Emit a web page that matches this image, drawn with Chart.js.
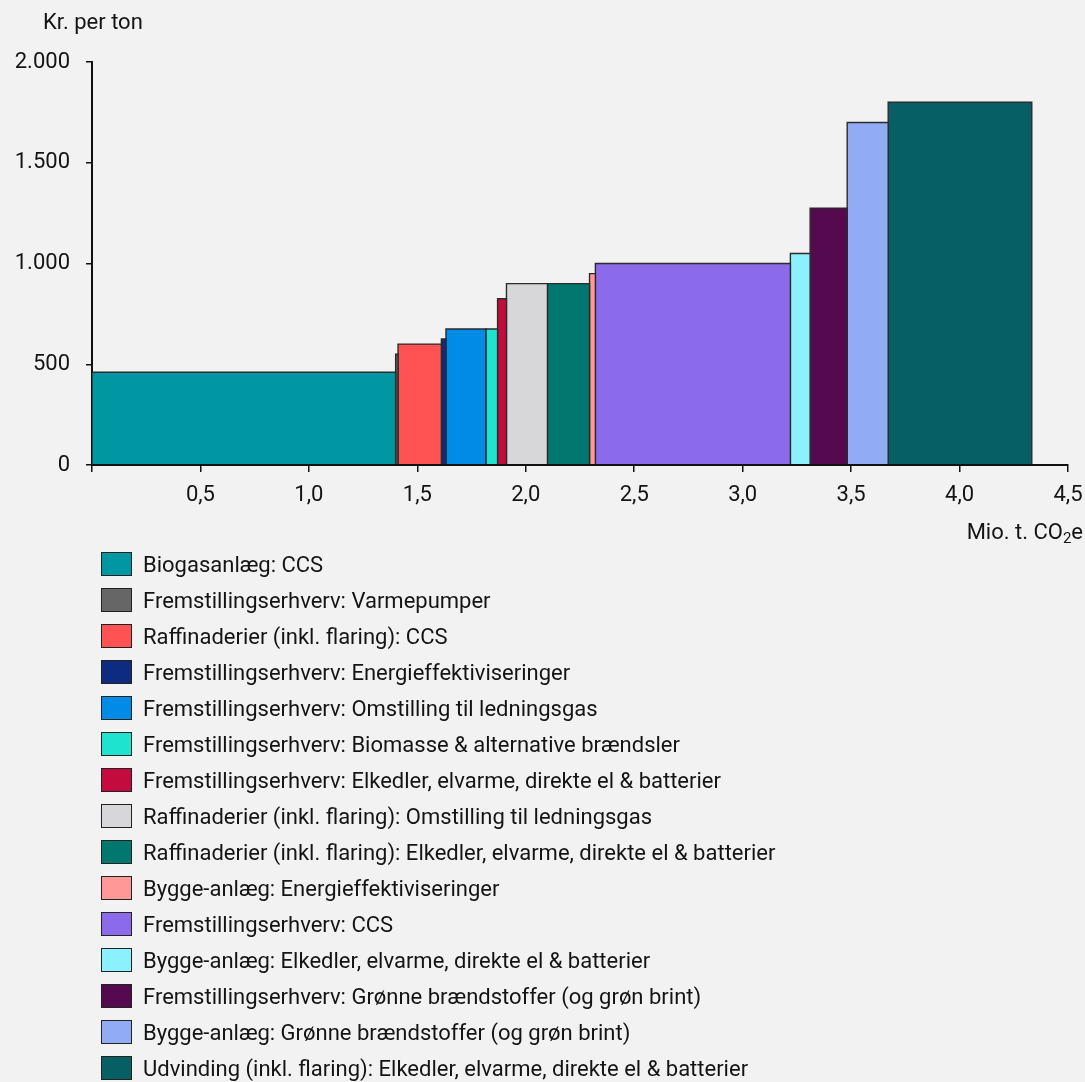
<!DOCTYPE html>
<html><head><meta charset="utf-8">
<script src="https://cdn.jsdelivr.net/npm/chart.js@4.4.1/dist/chart.umd.min.js"></script>
<style>
html,body{margin:0;padding:0;background:#f2f2f2;}
body{width:1085px;height:1082px;position:relative;overflow:hidden;font-family:Roboto,sans-serif;}
#c{position:absolute;left:0;top:0;}
#legend{position:absolute;left:101px;top:546px;}
.row{height:36px;display:flex;align-items:center;font-size:22px;color:#141414;white-space:nowrap;}
.box{width:29px;height:22px;border:1px solid #222;margin-right:11px;flex:none;}
</style></head><body>
<canvas id="c" width="1085" height="560"></canvas>
<div id="legend"></div>
<script>
// ---- data ----
const categories = [
  "Biogasanlæg: CCS",
  "Fremstillingserhverv: Varmepumper",
  "Raffinaderier (inkl. flaring): CCS",
  "Fremstillingserhverv: Energieffektiviseringer",
  "Fremstillingserhverv: Omstilling til ledningsgas",
  "Fremstillingserhverv: Biomasse & alternative brændsler",
  "Fremstillingserhverv: Elkedler, elvarme, direkte el & batterier",
  "Raffinaderier (inkl. flaring): Omstilling til ledningsgas",
  "Raffinaderier (inkl. flaring): Elkedler, elvarme, direkte el & batterier",
  "Bygge-anlæg: Energieffektiviseringer",
  "Fremstillingserhverv: CCS",
  "Bygge-anlæg: Elkedler, elvarme, direkte el & batterier",
  "Fremstillingserhverv: Grønne brændstoffer (og grøn brint)",
  "Bygge-anlæg: Grønne brændstoffer (og grøn brint)",
  "Udvinding (inkl. flaring): Elkedler, elvarme, direkte el & batterier"
];
// reduction potential, Mio. t. CO2e (bar widths)
const potentials = [1.40, 0.011, 0.20, 0.021, 0.184, 0.054, 0.041, 0.189, 0.194, 0.027, 0.899, 0.091, 0.171, 0.189, 0.662];
// cost, kr. per ton (bar heights)
const costs = [460, 550, 600, 625, 675, 675, 825, 900, 900, 950, 1000, 1050, 1275, 1700, 1800];
const colors = ["#0096a2","#666666","#ff5252","#0e2b82","#008ce6","#1ee3cf","#c30b3d","#d7d7d9","#007870","#ff9896","#8c6bea","#8cf1ff","#550a50","#92abf5","#055f64"];
const xTickValues = [0, 0.5, 1.0, 1.5, 2.0, 2.5, 3.0, 3.5, 4.0, 4.5];
const yTickValues = [0, 500, 1000, 1500, 2000];
const yTitle = "Kr. per ton";
const xTitleMain = "Mio. t. CO", xTitleSub = "2", xTitleEnd = "e";

// ---- build datasets (each measure a rectangle from cumulative potential) ----
let start = 0;
const datasets = categories.map((name, i) => {
  const x0 = start, x1 = start + potentials[i];
  start = x1;
  return {
    label: name,
    data: [{x: x0, y: 0}, {x: x0, y: costs[i]}, {x: x1, y: costs[i]}, {x: x1, y: 0}],
    showLine: true,
    fill: 'origin',
    backgroundColor: colors[i],
    borderColor: '#2b2b2b',
    borderWidth: 1.4,
    pointRadius: 0,
    tension: 0
  };
});

const fmtDa = v => {
  if (v >= 1000) { const t = Math.floor(v / 1000), r = Math.round(v % 1000); return t + '.' + String(r).padStart(3, '0'); }
  return String(v);
};

const titles = {
  id: 'titles',
  afterDatasetsDraw(chart) {
    // keep the x axis line visible on top of the bars
    const ctx = chart.ctx, ca = chart.chartArea;
    ctx.save();
    ctx.strokeStyle = '#111';
    ctx.lineWidth = 2;
    ctx.beginPath();
    ctx.moveTo(ca.left, ca.bottom);
    ctx.lineTo(ca.right, ca.bottom);
    ctx.stroke();
    ctx.restore();
  },
  afterDraw(chart) {
    const ctx = chart.ctx, ca = chart.chartArea;
    ctx.save();
    ctx.fillStyle = '#141414';
    ctx.textBaseline = 'middle';
    ctx.textAlign = 'left';
    ctx.font = '22px Roboto';
    ctx.fillText(yTitle, 43, ca.top - 39);
    const wa = ctx.measureText(xTitleMain).width, we = ctx.measureText(xTitleEnd).width;
    ctx.font = '15px Roboto';
    const ws = ctx.measureText(xTitleSub).width;
    const xr = 1083, y = ca.bottom + 68;
    let x = xr - wa - ws - we;
    ctx.font = '22px Roboto';
    ctx.fillText(xTitleMain, x, y); x += wa;
    ctx.font = '15px Roboto';
    ctx.fillText(xTitleSub, x, y + 6); x += ws;
    ctx.font = '22px Roboto';
    ctx.fillText(xTitleEnd, x, y);
    ctx.restore();
  }
};

Chart.defaults.font.family = 'Roboto';
Chart.defaults.font.size = 22;
Chart.defaults.color = '#141414';

new Chart(document.getElementById('c'), {
  type: 'scatter',
  data: { datasets },
  plugins: [titles],
  options: {
    responsive: false,
    animation: false,
    events: [],
    layout: { padding: { top: 62, right: 0, bottom: 55, left: 0 } },
    plugins: { legend: { display: false }, tooltip: { enabled: false } },
    scales: {
      x: {
        type: 'linear', min: 0, max: 4.5,
        afterBuildTicks: s => { s.ticks = xTickValues.map(v => ({value: v})); },
        afterFit: s => { s.height = 40; s.paddingRight = 17; s.paddingLeft = 0; },
        ticks: { padding: 10, maxRotation: 0, autoSkip: false,
          callback: v => v === 0 ? '' : v.toFixed(1).replace('.', ',') },
        grid: { drawOnChartArea: false, drawTicks: true, tickLength: 7, color: '#111', lineWidth: 1.5 },
        border: { display: true, color: '#111', width: 2 }
      },
      y: {
        min: 0, max: 2000,
        afterBuildTicks: s => { s.ticks = yTickValues.map(v => ({value: v})); },
        afterFit: s => { s.width = 92; },
        ticks: { padding: 16, callback: v => fmtDa(v) },
        grid: { drawOnChartArea: false, drawTicks: true, tickLength: 6, color: '#111', lineWidth: 1.5 },
        border: { display: true, color: '#111', width: 2 }
      }
    }
  }
});

// ---- legend ----
const lg = document.getElementById('legend');
categories.forEach((name, i) => {
  const row = document.createElement('div'); row.className = 'row';
  const box = document.createElement('span'); box.className = 'box'; box.style.background = colors[i];
  const txt = document.createElement('span'); txt.textContent = name;
  row.appendChild(box); row.appendChild(txt); lg.appendChild(row);
});
</script>
</body></html>
